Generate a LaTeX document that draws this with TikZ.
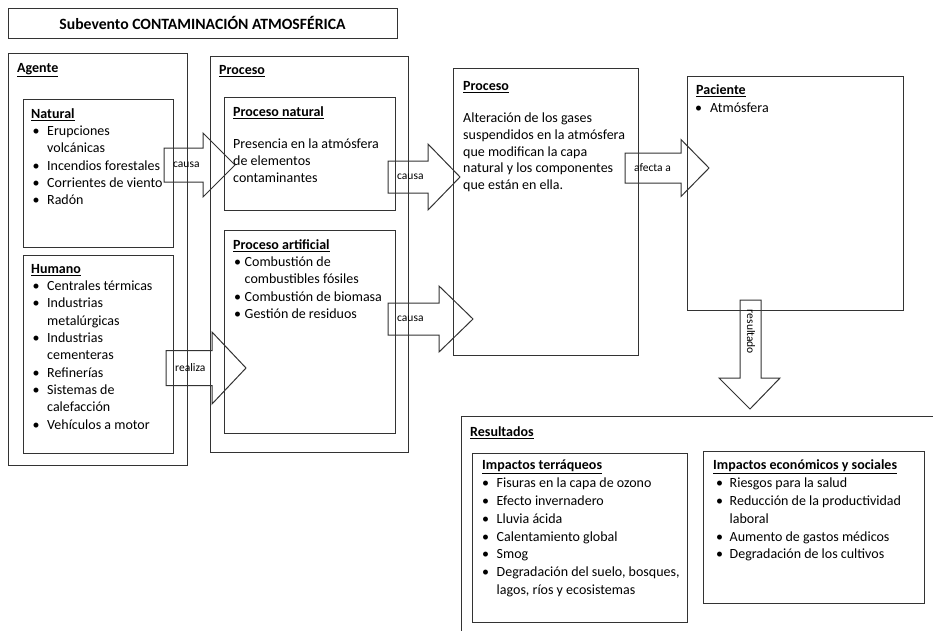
\documentclass[tikz,border=0pt]{standalone}
\usepackage{fontspec}
\setmainfont{Carlito}
\newcommand*{\bodyfont}{\fontsize{14}{17.3}\selectfont}
\newcommand*{\tagfont }{\fontsize{11.5}{13}\selectfont}
\newcommand*{\headfont}{\fontsize{15.7}{19}\selectfont\bfseries}
\newcommand*{\bl}[1][14.5pt]{\makebox[#1][l]{\textbullet}}
\newcommand*{\ind}[1][14.5pt]{\hspace*{#1}}
\newcommand*{\hd}[1]{\underline{\textbf{#1}}}
% panel: name, x1, y1, x2, y2
\newcommand*{\panel}[5]{\node [box, minimum width={#4-#2}, minimum height={#5-#3}] (#1) at ({(#2+#4)/2},{(#3+#5)/2}) {};}
% block arrow: name, tail x, centre y, body half, head x, head half, tip x, label
\newcommand*{\blockarrow}[8]{%
    \draw [arrowline] (#2,#3-#4) -- (#5,#3-#4) -- (#5,#3-#6) -- (#7,#3) -- (#5,#3+#6) -- (#5,#3+#4) -- (#2,#3+#4) -- cycle;
    \node [arrowtext] (#1) at (#2+9,#3) {#8};}

\begin{document}
\begin{tikzpicture}[x=1pt, y=-1pt,
    box/.style={draw=black!80, line width=1pt, inner sep=0pt},
    arrowline/.style={draw=black!80, line width=1pt, line join=miter},
    arrowtext/.style={anchor=west, inner sep=0pt, font=\tagfont},
    txt/.style={anchor=north west, inner sep=0pt, align=left, font=\bodyfont}]
    \useasboundingbox (0,0) rectangle (933,630);
    \clip (0,0) rectangle (933,630);

    \panel{titlebox}{8}{8}{397}{38}
    \node [font=\headfont] (title) at (titlebox) {Subevento CONTAMINACIÓN ATMOSFÉRICA};

    \panel{agente}{8}{53}{187}{465}
    \panel{natural}{23}{99}{173}{247}
    \panel{humano}{23}{255}{173}{453}
    \panel{proceso}{210}{56}{408}{452}
    \panel{pnatural}{224}{97}{395}{210}
    \panel{partificial}{224}{230}{395}{433}
    \panel{alteracion}{453}{68}{638}{355}
    \panel{paciente}{687}{76}{903}{310}
    \panel{resultados}{461}{416}{950}{650}
    \panel{terraqueos}{472}{453}{687}{622}
    \panel{economicos}{703}{451}{924}{603}

    \node [txt] (agentehd) at (17,60) {\strut\hd{Agente}};
    \node [txt] (naturalhd) at (31,106) {\strut\hd{Natural}};
    \node [txt] (naturallist) at (32.5,123.3) {\strut\bl Erupciones\\ \ind volcánicas\\ \bl Incendios forestales\\ \bl Corrientes de viento\\ \bl Radón};
    \node [txt] (humanohd) at (31,261) {\strut\hd{Humano}};
    \node [txt] (humanolist) at (32.5,278.3) {\strut\bl Centrales térmicas\\ \bl Industrias\\ \ind metalúrgicas\\ \bl Industrias\\ \ind cementeras\\ \bl Refinerías\\ \bl Sistemas de\\ \ind calefacción\\ \bl Vehículos a motor};

    \node [txt] (procesohd) at (219,62) {\strut\hd{Proceso}};
    \node [txt] (pnaturalhd) at (233,104) {\strut\hd{Proceso natural}};
    \node [txt] (pnaturaltext) at (233,136) {\strut Presencia en la atmósfera\\ de elementos\\ contaminantes};
    \node [txt] (partificialhd) at (233,237) {\strut\hd{Proceso artificial}};
    \node [txt] (partificiallist) at (234,254.3) {\strut\bl[10.5pt]Combustión de\\ \ind[10.5pt]combustibles fósiles\\ \bl[10.5pt]Combustión de biomasa\\ \bl[10.5pt]Gestión de residuos};

    \node [txt] (alteracionhd) at (463,78) {\strut\hd{Proceso}};
    \node [txt, font=\fontsize{14}{16.6}\selectfont] (alteraciontext) at (463,111) {\strut Alteración de los gases\\ suspendidos en la atmósfera\\ que modifican la capa\\ natural y los componentes\\ que están en ella.};

    \node [txt] (pacientehd) at (696,82) {\strut\hd{Paciente}};
    \node [txt] (pacientelist) at (695,100) {\strut\bl[15pt]Atmósfera};

    \node [txt] (resultadoshd) at (470,424) {\strut\hd{Resultados}};
    \node [txt] (terraqueoshd) at (482,457) {\strut\hd{Impactos terráqueos}};
    \node [txt, font=\fontsize{14}{17.8}\selectfont] (terraqueoslist) at (482,475) {\strut\bl Fisuras en la capa de ozono\\ \bl Efecto invernadero\\ \bl Lluvia ácida\\ \bl Calentamiento global\\ \bl Smog\\ \bl Degradación del suelo, bosques,\\ \ind lagos, ríos y ecosistemas};
    \node [txt] (economicoshd) at (713,457) {\strut\hd{Impactos económicos y sociales}};
    \node [txt, font=\fontsize{14}{17.8}\selectfont] (economicoslist) at (716,475) {\strut\bl[13.5pt]Riesgos para la salud\\ \bl[13.5pt]Reducción de la productividad\\ \ind[13.5pt]laboral\\ \bl[13.5pt]Aumento de gastos médicos\\ \bl[13.5pt]Degradación de los cultivos};

    \blockarrow{causanatural}{164}{165}{17}{203}{32}{235}{causa}
    \blockarrow{causaalteracion}{388}{177}{16}{428}{33}{460}{causa}
    \blockarrow{causaartificial}{388}{319}{16}{439}{33}{473}{causa}
    \blockarrow{realiza}{166}{368}{17.5}{212}{36}{246}{realiza}
    \blockarrow{afecta}{625}{168}{15}{681}{28.5}{709}{afecta a}

    \draw [arrowline] (740,300) -- (761,300) -- (761,378) -- (780,378) -- (750,409) -- (719,378) -- (740,378) -- cycle;
    \node [arrowtext, anchor=center, rotate=-90] (resultado) at (751,332) {resultado};
\end{tikzpicture}
\end{document}
